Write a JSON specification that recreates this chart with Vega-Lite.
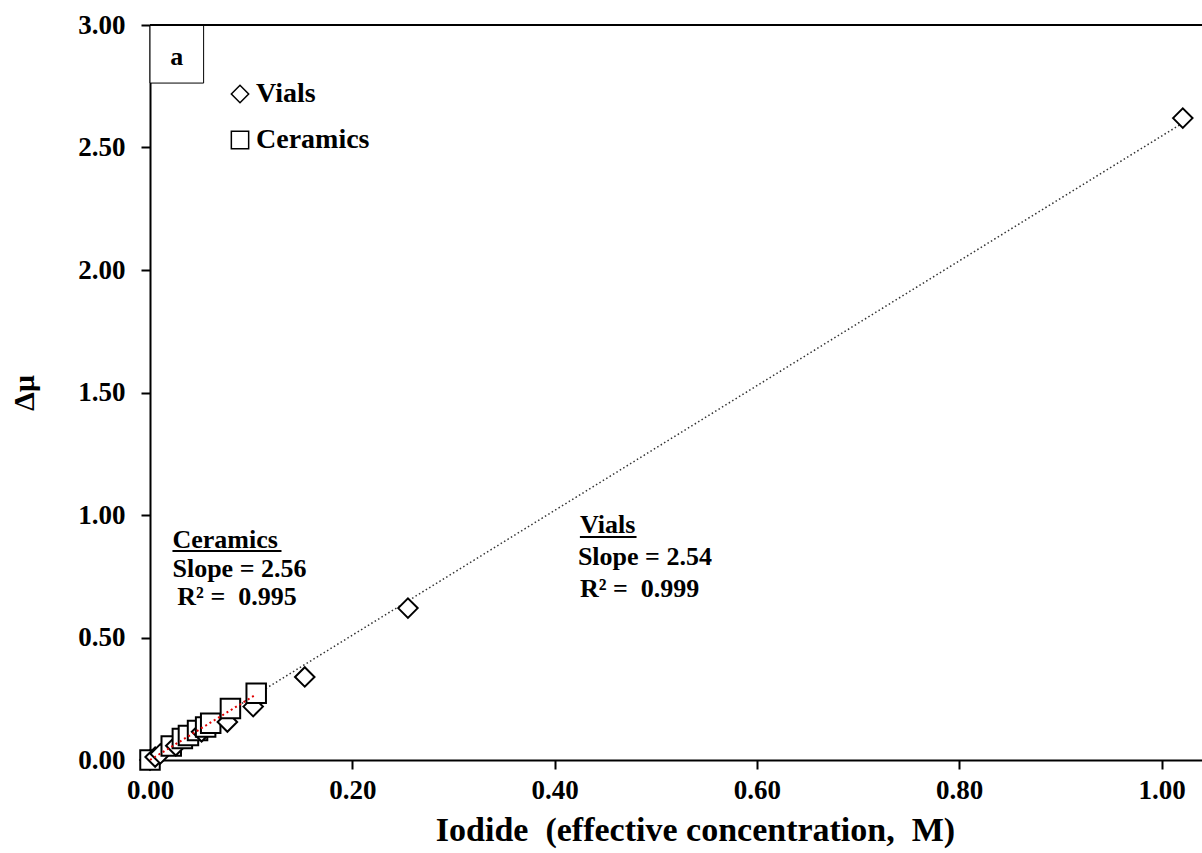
{
  "$schema": "https://vega.github.io/schema/vega-lite/v6.json",
  "width": 1052,
  "height": 735,
  "autosize": {"type": "none"},
  "padding": {"left": 150, "top": 25, "right": 0, "bottom": 93},
  "background": "white",
  "config": {
    "view": {"stroke": null},
    "font": "Liberation Serif",
    "axis": {
      "grid": false,
      "domainColor": "black",
      "domainWidth": 2,
      "tickColor": "black",
      "tickWidth": 2,
      "tickSize": 9,
      "labelFont": "Liberation Serif",
      "labelFontWeight": "bold",
      "labelFontSize": 27,
      "labelColor": "black",
      "labelFlush": false,
      "titleFont": "Liberation Serif",
      "titleFontWeight": "bold",
      "titleColor": "black"
    }
  },
  "datasets": {
    "points": [
      {"series": "Vials", "conc": 0.0, "dmu": 0.0},
      {"series": "Vials", "conc": 0.0051, "dmu": 0.012},
      {"series": "Vials", "conc": 0.0102, "dmu": 0.025},
      {"series": "Vials", "conc": 0.0255, "dmu": 0.058},
      {"series": "Vials", "conc": 0.051, "dmu": 0.115},
      {"series": "Vials", "conc": 0.0765, "dmu": 0.155},
      {"series": "Vials", "conc": 0.102, "dmu": 0.218},
      {"series": "Vials", "conc": 0.153, "dmu": 0.339},
      {"series": "Vials", "conc": 0.255, "dmu": 0.62},
      {"series": "Vials", "conc": 1.021, "dmu": 2.62},
      {"series": "Ceramics", "conc": 0.0, "dmu": 0.0},
      {"series": "Ceramics", "conc": 0.021, "dmu": 0.057},
      {"series": "Ceramics", "conc": 0.032, "dmu": 0.088},
      {"series": "Ceramics", "conc": 0.038, "dmu": 0.1},
      {"series": "Ceramics", "conc": 0.047, "dmu": 0.12},
      {"series": "Ceramics", "conc": 0.055, "dmu": 0.135},
      {"series": "Ceramics", "conc": 0.06, "dmu": 0.15},
      {"series": "Ceramics", "conc": 0.0795, "dmu": 0.21},
      {"series": "Ceramics", "conc": 0.105, "dmu": 0.272}
    ],
    "vialsFit": [
      {"conc": 0.0, "dmu": 0.0},
      {"conc": 1.021, "dmu": 2.6}
    ],
    "ceramicsFit": [
      {"conc": 0.0, "dmu": 0.0},
      {"conc": 0.105, "dmu": 0.268}
    ],
    "notes": [
      {"label": "Ceramics", "conc": 0.0222, "dmu": 0.865},
      {"label": "Slope = 2.56", "conc": 0.0222, "dmu": 0.747},
      {"label": "R² =\u00a0 0.995", "conc": 0.027, "dmu": 0.633},
      {"label": "Vials", "conc": 0.425, "dmu": 0.927},
      {"label": "Slope = 2.54", "conc": 0.423, "dmu": 0.796},
      {"label": "R² =\u00a0 0.999", "conc": 0.425, "dmu": 0.665}
    ],
    "underlines": [
      {"x1": 0.0222, "x2": 0.1300, "y": 0.853},
      {"x1": 0.425, "x2": 0.481, "y": 0.91},
      {"x1": 0.0, "x2": 1.04, "y": 3.0}
    ],
    "panel": [
      {"x1": 0.0, "x2": 0.053, "y1": 2.763, "y2": 3.0, "tx": 0.0265, "ty": 2.87, "label": "a"}
    ]
  },
  "layer": [
    {
      "data": {"name": "vialsFit"},
      "mark": {"type": "line", "color": "#333333", "strokeWidth": 1.5, "strokeDash": [1.5, 2.5]},
      "encoding": {
        "x": {"field": "conc", "type": "quantitative", "scale": {"domain": [0, 1.04], "nice": false}},
        "y": {"field": "dmu", "type": "quantitative", "scale": {"domain": [0, 3], "nice": false}}
      }
    },
    {
      "data": {"name": "points"},
      "mark": {"type": "point", "filled": false, "fill": "white", "fillOpacity": 1, "stroke": "black", "strokeWidth": 2, "opacity": 1},
      "encoding": {
        "x": {
          "field": "conc", "type": "quantitative",
          "scale": {"domain": [0, 1.04], "nice": false},
          "axis": {"values": [0, 0.2, 0.4, 0.6, 0.8, 1.0], "format": ".2f", "labelPadding": 8,
                   "title": "Iodide\u00a0 (effective concentration,\u00a0 M)", "titleFontSize": 34, "titlePadding": 10,
                   "titleX": 545, "titleAlign": "center"}
        },
        "y": {
          "field": "dmu", "type": "quantitative",
          "scale": {"domain": [0, 3], "nice": false},
          "axis": {"values": [0, 0.5, 1, 1.5, 2, 2.5, 3], "format": ".2f", "labelPadding": 16,
                   "title": "Δμ", "titleFontSize": 30, "titlePadding": 38}
        },
        "shape": {
          "field": "series", "type": "nominal",
          "scale": {"domain": ["Vials", "Ceramics"], "range": ["diamond", "square"]},
          "legend": {
            "orient": "none", "legendX": 76, "legendY": 55, "title": null,
            "labelFont": "Liberation Serif", "labelFontWeight": "bold", "labelFontSize": 28, "labelColor": "black",
            "symbolSize": 300, "rowPadding": 18, "labelOffset": 2, "padding": 0,
            "encode": {
              "symbols": {
                "update": {
                  "stroke": {"value": "black"},
                  "fill": {"value": "white"},
                  "strokeWidth": {"value": 2},
                  "opacity": {"value": 1},
                  "fillOpacity": {"value": 1},
                  "strokeOpacity": {"value": 1}
                }
              }
            }
          }
        },
        "size": {"value": 380},
        "order": {"field": "conc", "type": "quantitative"}
      }
    },
    {
      "data": {"name": "ceramicsFit"},
      "mark": {"type": "line", "color": "#e00000", "strokeWidth": 2, "strokeDash": [2, 3]},
      "encoding": {
        "x": {"field": "conc", "type": "quantitative"},
        "y": {"field": "dmu", "type": "quantitative"}
      }
    },
    {
      "data": {"name": "panel"},
      "mark": {"type": "rect", "fill": "white", "stroke": "black", "strokeWidth": 1},
      "encoding": {
        "x": {"field": "x1", "type": "quantitative"},
        "x2": {"field": "x2"},
        "y": {"field": "y1", "type": "quantitative"},
        "y2": {"field": "y2"}
      }
    },
    {
      "data": {"name": "panel"},
      "mark": {"type": "text", "font": "Liberation Serif", "fontWeight": "bold", "fontSize": 26, "color": "black", "align": "center", "baseline": "middle"},
      "encoding": {
        "x": {"field": "tx", "type": "quantitative"},
        "y": {"field": "ty", "type": "quantitative"},
        "text": {"field": "label"}
      }
    },
    {
      "data": {"name": "notes"},
      "mark": {"type": "text", "font": "Liberation Serif", "fontWeight": "bold", "fontSize": 26, "color": "black", "align": "left", "baseline": "alphabetic"},
      "encoding": {
        "x": {"field": "conc", "type": "quantitative"},
        "y": {"field": "dmu", "type": "quantitative"},
        "text": {"field": "label"}
      }
    },
    {
      "data": {"name": "underlines"},
      "mark": {"type": "rule", "color": "black", "strokeWidth": 2},
      "encoding": {
        "x": {"field": "x1", "type": "quantitative"},
        "x2": {"field": "x2"},
        "y": {"field": "y", "type": "quantitative"}
      }
    }
  ]
}
